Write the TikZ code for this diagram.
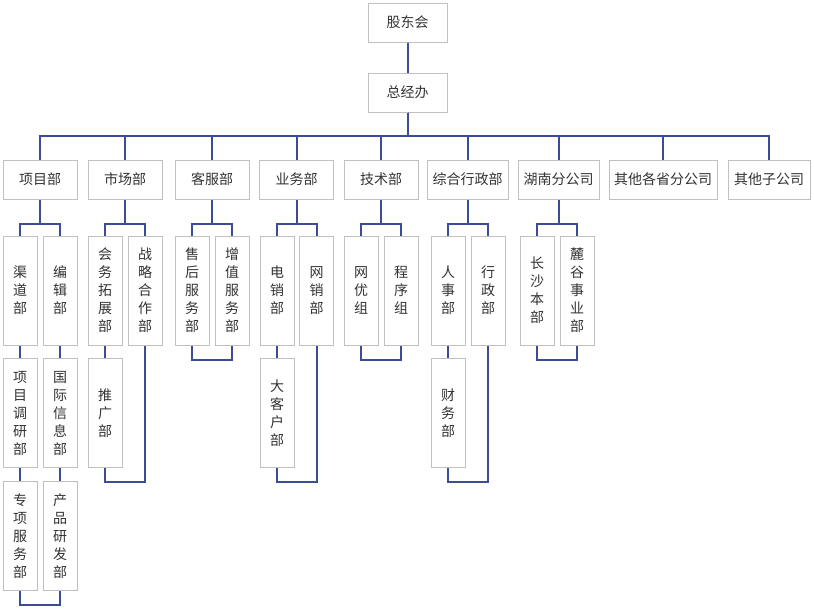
\documentclass[tikz,border=0pt]{standalone}
\usepackage{fontspec}
\setmainfont{Noto Sans CJK SC}
\usetikzlibrary{positioning}
\definecolor{linkblue}{RGB}{61,76,150}
\definecolor{boxgray}{RGB}{192,192,192}
\definecolor{textgray}{RGB}{51,51,51}

\begin{document}
\begin{tikzpicture}[x=0.75pt, y=-0.75pt, node distance=9.5pt,
  unit/.style={draw=boxgray, line width=0.75pt, fill=white, text=textgray, inner sep=0pt,
    minimum height=29.25pt, minimum width=55.5pt, font=\fontsize{10.5}{13.5}\selectfont},
  column/.style={unit, minimum width=25.5pt, minimum height=81.75pt, align=center},
  link/.style={draw=linkblue, line width=1.5pt}]
  \useasboundingbox (0,0) rectangle (814,612);

  \node[unit, minimum width=59.25pt] (gdh) at (407.5,22.5) {股东会};
  \node[unit, minimum width=59.25pt] (zjb) at (407.5,92.5) {总经办};

  \node[unit] (xmb) at (40,179.5) {项目部};
  \node[unit] (scb) at (125,179.5) {市场部};
  \node[unit] (kfb) at (212,179.5) {客服部};
  \node[unit] (ywb) at (296.5,179.5) {业务部};
  \node[unit] (jsb) at (381,179.5) {技术部};
  \node[unit, minimum width=60.75pt] (zhxz) at (467.5,179.5) {综合行政部};
  \node[unit, minimum width=60.75pt] (hnfgs) at (558.5,179.5) {湖南分公司};
  \node[unit, minimum width=81pt] (qtgs) at (663,179.5) {其他各省分公司};
  \node[unit, minimum width=61.5pt] (qtzgs) at (769,179.5) {其他子公司};

  \node[column] (qdb) at (20,290.5) {渠\\道\\部};
  \node[column] (bjb) at (60,290.5) {编\\辑\\部};
  \node[column] (hwtz) at (105,290.5) {会\\务\\拓\\展\\部};
  \node[column] (zlhz) at (145,290.5) {战\\略\\合\\作\\部};
  \node[column] (shfw) at (192,290.5) {售\\后\\服\\务\\部};
  \node[column] (zzfw) at (232,290.5) {增\\值\\服\\务\\部};
  \node[column] (dxb) at (277,290.5) {电\\销\\部};
  \node[column] (wxb) at (316.5,290.5) {网\\销\\部};
  \node[column] (wyz) at (361,290.5) {网\\优\\组};
  \node[column] (cxz) at (401,290.5) {程\\序\\组};
  \node[column] (rsb) at (448,290.5) {人\\事\\部};
  \node[column] (xzb) at (488,290.5) {行\\政\\部};
  \node[column] (csbb) at (537,290.5) {长\\沙\\本\\部};
  \node[column] (lgsy) at (577,290.5) {麓\\谷\\事\\业\\部};

  \node[column] (xmdy) [below=of qdb] {项\\目\\调\\研\\部};
  \node[column] (zxfw) [below=of xmdy] {专\\项\\服\\务\\部};
  \node[column] (gjxx) [below=of bjb] {国\\际\\信\\息\\部};
  \node[column] (cpyf) [below=of gjxx] {产\\品\\研\\发\\部};
  \node[column] (tgb) [below=of hwtz] {推\\广\\部};
  \node[column] (dkh) [below=of dxb] {大\\客\\户\\部};
  \node[column] (cwb) [below=of rsb] {财\\务\\部};

  \coordinate (bus) at (407.5,135.5);
  \coordinate (sub) at (0,224);

  \draw[link] (gdh) -- (zjb);
  \foreach \n in {xmb,scb,kfb,ywb,jsb,zhxz,hnfgs,qtgs,qtzgs}
    \draw[link] (zjb.south) -- (bus) -| (\n.north);

  \foreach \p/\a/\b in {xmb/qdb/bjb, scb/hwtz/zlhz, kfb/shfw/zzfw, ywb/dxb/wxb,
                        jsb/wyz/cxz, zhxz/rsb/xzb, hnfgs/csbb/lgsy} {
    \draw[link] (\p.south) -- (\p.south |- sub) -| (\a.north);
    \draw[link] (\p.south |- sub) -| (\b.north);
  }

  \draw[link] (qdb) -- (xmdy);
  \draw[link] (xmdy) -- (zxfw);
  \draw[link] (bjb) -- (gjxx);
  \draw[link] (gjxx) -- (cpyf);
  \draw[link] (hwtz) -- (tgb);
  \draw[link] (dxb) -- (dkh);
  \draw[link] (rsb) -- (cwb);

  \draw[link] (zxfw.south) -- ++(0,14) -| (cpyf.south);
  \draw[link] (tgb.south) -- ++(0,14) -| (zlhz.south);
  \draw[link] (shfw.south) -- ++(0,14) -| (zzfw.south);
  \draw[link] (dkh.south) -- ++(0,14) -| (wxb.south);
  \draw[link] (wyz.south) -- ++(0,14) -| (cxz.south);
  \draw[link] (cwb.south) -- ++(0,14) -| (xzb.south);
  \draw[link] (csbb.south) -- ++(0,14) -| (lgsy.south);
\end{tikzpicture}
\end{document}
